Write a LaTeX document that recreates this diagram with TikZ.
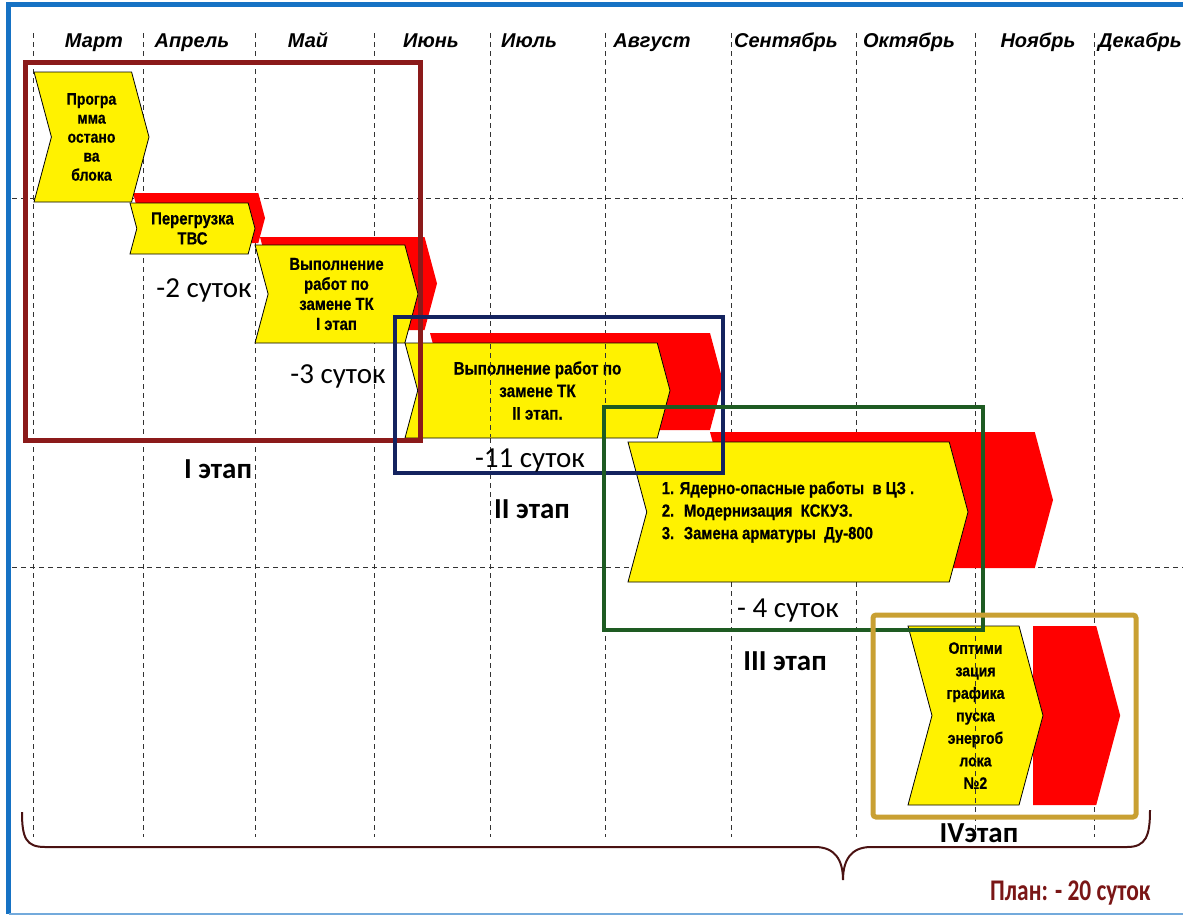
\documentclass[tikz,border=0pt]{standalone}
\usepackage{fontspec}
\setmainfont{Liberation Sans}
\newfontfamily\narrowfont{Liberation Sans}[FakeStretch=0.85,BoldFeatures={FakeBold=0.6}]
\newfontfamily\calibrifont{Carlito}
\newfontfamily\plancondensed{Carlito}[FakeStretch=0.78]
\usetikzlibrary{shapes.symbols}
\definecolor{frameblue}{HTML}{1672C4}
\definecolor{stageI}{HTML}{8B1A1A}
\definecolor{stageII}{HTML}{14235F}
\definecolor{stageIII}{HTML}{1E5B22}
\definecolor{stageIV}{HTML}{C9A032}
\definecolor{bracecol}{HTML}{4A1212}
\definecolor{plancol}{HTML}{7A1616}

\begin{document}
\begin{tikzpicture}[
  x=1pt,y=-1pt,
  grid line/.style={dash pattern=on 5pt off 4pt,line width=0.9pt,black!80},
  month/.style={anchor=base,font=\fontsize{20}{24}\selectfont\bfseries\itshape},
  task/.style={signal,signal to=east,signal from=west,signal pointer angle=150,draw=black,line width=0.8pt,fill=yellow,inner sep=0pt,align=center,font=\narrowfont\fontsize{17.5}{20}\selectfont\bfseries},
  plan/.style={signal,signal to=east,signal from=west,signal pointer angle=150,fill=red,inner sep=0pt},
  stagebox/.style={draw,inner sep=0pt},
  days/.style={anchor=base,font=\calibrifont\fontsize{29}{34}\selectfont},
  stage label/.style={anchor=base,font=\calibrifont\fontsize{29}{34}\selectfont\bfseries}
]
\useasboundingbox (0,0) rectangle (1183,916);
% frame
\draw[frameblue,line width=5pt] (1190,4.5) -- (8.5,4.5) -- (8.5,914);
\draw[frameblue!60,line width=2pt] (8.5,914) -- (1190,914);
% month grid
\foreach \x in {33,143,255,374,490,605,731,856,975,1094}
  \draw[grid line] (\x,33) -- (\x,837);
\foreach \y in {198,567}
  \draw[grid line] (12,\y) -- (1183,\y);
\foreach \x/\m [count=\i] in {94/Март,192/Апрель,308/Май,431/Июнь,529/Июль,652/Август,786/Сентябрь,909/Октябрь,1038/Ноябрь,1140/Декабрь}
  \node[month] (month\i) at (\x,47) {\m};
% planned durations
\node[plan,minimum width=132,minimum height=50] (r2) at (199,218) {};
\node[plan,minimum width=177,minimum height=93] (r3) at (348.5,283.5) {};
\node[plan,minimum width=293,minimum height=97] (r4) at (576.5,381.5) {};
\node[plan,minimum width=343,minimum height=136] (r5) at (881.5,500) {};
\node[plan,signal from=nowhere,anchor=west,minimum width=87,minimum height=179] (r6) at (1033,715.5) {};
% actual works
\node[task,minimum width=115,minimum height=130,font=\narrowfont\fontsize{16.5}{19}\selectfont\bfseries] (s1) at (91.5,137) {Програ\\мма\\остано\\ва\\блока};
\node[task,minimum width=125,minimum height=51] (s2) at (192.5,228.5) {Перегрузка\\ТВС};
\node[task,minimum width=163,minimum height=98] (s3) at (336.5,294) {Выполнение\\работ по\\замене ТК\\I этап};
\node[task,minimum width=265,minimum height=95,font=\narrowfont\fontsize{18}{22.5}\selectfont\bfseries] (s4) at (537.5,390.5) {Выполнение работ по\\замене ТК\\II этап.};
\node[task,minimum width=340,minimum height=140,align=left,font=\narrowfont\fontsize{17.5}{22.5}\selectfont\bfseries] (s5) at (798,512) {1. Ядерно-опасные работы~ в ЦЗ .\hspace*{20pt}\\2.~ Модернизация~ КСКУЗ.\\3.~ Замена арматуры~ Ду-800};
\node[task,minimum width=135,minimum height=179,font=\narrowfont\fontsize{16.5}{22.5}\selectfont\bfseries] (s6) at (975.5,715.5) {Оптими\\зация\\графика\\пуска\\энергоб\\лока\\№2};
% grid seen through
\foreach \x in {490,605}
  \draw[grid line] (\x,344) -- (\x,437);
\draw[grid line] (975,627) -- (975,804);
% stages
\node[stagebox,draw=stageI,line width=5pt,minimum width=395,minimum height=378] (stI) at (222.5,251) {};
\node[stagebox,draw=stageII,line width=4.5pt,minimum width=328,minimum height=156] (stII) at (559,395) {};
\node[stagebox,draw=stageIII,line width=4pt,minimum width=379,minimum height=223] (stIII) at (793.5,518.5) {};
\node[stagebox,draw=stageIV,line width=5pt,rounded corners=3pt,minimum width=263,minimum height=202] (stIV) at (1004.5,716) {};
% savings
\node[days] (d1) at (204,297) {-2 суток};
\node[days] (d2) at (338,383) {-3 суток};
\node[days] (d3) at (530,467) {-11 суток};
\node[days] (d4) at (788,617) {- 4 суток};
\node[stage label] (lI) at (218,478) {I этап};
\node[stage label] (lII) at (532,518) {II этап};
\node[stage label] (lIII) at (785,670) {III этап};
\node[stage label] (lIV) at (979,842) {IVэтап};
% total
\draw[bracecol,line width=2pt] (22,812) .. controls (22,838) and (26,847) .. (45,847) -- (815,847)
  .. controls (835,847) and (843,860) .. (843,880) .. controls (843,860) and (851,847) .. (871,847)
  -- (1127,847) .. controls (1146,847) and (1150,836) .. (1150,810);
\node[anchor=base east,text=plancol,font=\plancondensed\fontsize{30}{34}\selectfont\bfseries] (total) at (1154,900) {План: - 20 суток};
\end{tikzpicture}
\end{document}
